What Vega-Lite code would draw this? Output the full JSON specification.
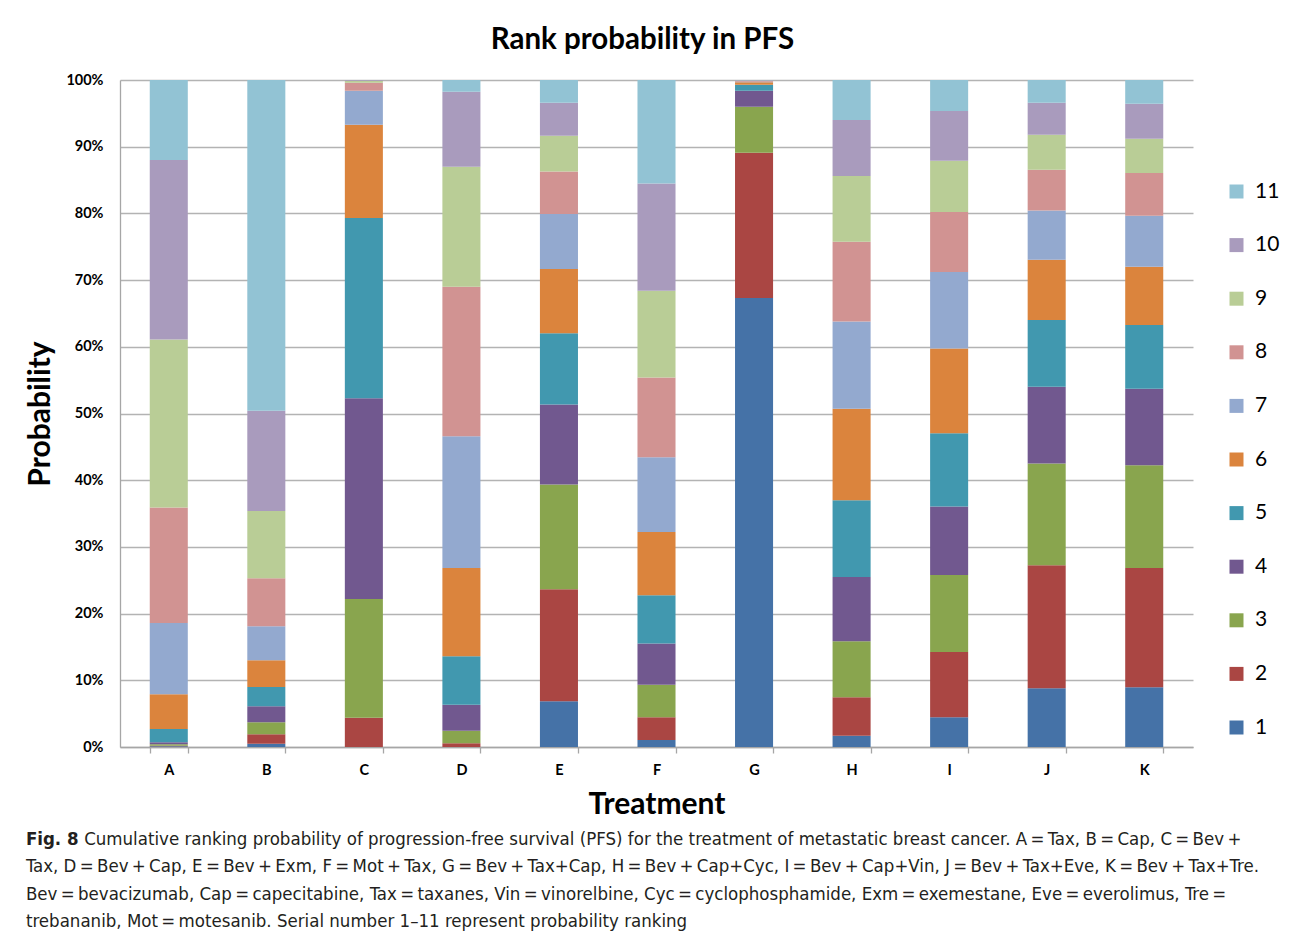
{
  "$schema": "https://vega.github.io/schema/vega-lite/v6.json",
  "background": "white",
  "padding": {"left": 25, "top": 24, "right": 5, "bottom": 5},
  "title": {
    "text": "Fig. 8",
    "subtitle": [
      "\u200b\u2003\u2003\u2003\u2005\u2005Cumulative ranking probability of progression-free survival (PFS) for the treatment of metastatic breast cancer. A\u2009=\u2009Tax, B\u2009=\u2009Cap, C\u2009=\u2009Bev\u2009+",
      "Tax, D\u2009=\u2009Bev\u2009+\u2009Cap, E\u2009=\u2009Bev\u2009+\u2009Exm, F\u2009=\u2009Mot\u2009+\u2009Tax, G\u2009=\u2009Bev\u2009+\u2009Tax+Cap, H\u2009=\u2009Bev\u2009+\u2009Cap+Cyc, I\u2009=\u2009Bev\u2009+\u2009Cap+Vin, J\u2009=\u2009Bev\u2009+\u2009Tax+Eve, K\u2009=\u2009Bev\u2009+\u2009Tax+Tre.",
      "Bev\u2009=\u2009bevacizumab, Cap\u2009=\u2009capecitabine, Tax\u2009=\u2009taxanes, Vin\u2009=\u2009vinorelbine, Cyc\u2009=\u2009cyclophosphamide, Exm\u2009=\u2009exemestane, Eve\u2009=\u2009everolimus, Tre\u2009=",
      "trebananib, Mot\u2009=\u2009motesanib. Serial number 1\u201311 represent probability ranking"
    ],
    "orient": "bottom",
    "anchor": "start",
    "frame": "bounds",
    "offset": 10,
    "font": "DejaVu Sans Condensed",
    "fontSize": 18.5,
    "fontWeight": "bold",
    "color": "#231f20",
    "subtitleFont": "DejaVu Sans Condensed",
    "subtitleFontSize": 18.5,
    "subtitleColor": "#231f20",
    "subtitleLineHeight": 27.5,
    "subtitlePadding": -18.5
  },
  "vconcat": [
    {
      "title": {
        "text": "Rank probability in PFS",
        "font": "Lato",
        "fontSize": 29.5,
        "fontWeight": "bold",
        "color": "#000000",
        "anchor": "middle",
        "dx": -14,
        "offset": 17
      },
      "width": 1073,
      "height": 667,
      "data": {
        "values": [
          {"treatment": "A", "rank": 1, "prob": 0.1}, {"treatment": "A", "rank": 2, "prob": 0.1}, {"treatment": "A", "rank": 3, "prob": 0.2}, {"treatment": "A", "rank": 4, "prob": 0.3}, {"treatment": "A", "rank": 5, "prob": 2.0}, {"treatment": "A", "rank": 6, "prob": 5.2}, {"treatment": "A", "rank": 7, "prob": 10.7}, {"treatment": "A", "rank": 8, "prob": 17.3}, {"treatment": "A", "rank": 9, "prob": 25.2}, {"treatment": "A", "rank": 10, "prob": 26.9}, {"treatment": "A", "rank": 11, "prob": 12.0},
          {"treatment": "B", "rank": 1, "prob": 0.5}, {"treatment": "B", "rank": 2, "prob": 1.4}, {"treatment": "B", "rank": 3, "prob": 1.8}, {"treatment": "B", "rank": 4, "prob": 2.4}, {"treatment": "B", "rank": 5, "prob": 2.9}, {"treatment": "B", "rank": 6, "prob": 4.0}, {"treatment": "B", "rank": 7, "prob": 5.1}, {"treatment": "B", "rank": 8, "prob": 7.2}, {"treatment": "B", "rank": 9, "prob": 10.1}, {"treatment": "B", "rank": 10, "prob": 15.0}, {"treatment": "B", "rank": 11, "prob": 49.6},
          {"treatment": "C", "rank": 1, "prob": 0.0}, {"treatment": "C", "rank": 2, "prob": 4.4}, {"treatment": "C", "rank": 3, "prob": 17.8}, {"treatment": "C", "rank": 4, "prob": 30.1}, {"treatment": "C", "rank": 5, "prob": 27.0}, {"treatment": "C", "rank": 6, "prob": 14.0}, {"treatment": "C", "rank": 7, "prob": 5.1}, {"treatment": "C", "rank": 8, "prob": 1.2}, {"treatment": "C", "rank": 9, "prob": 0.3}, {"treatment": "C", "rank": 10, "prob": 0.1}, {"treatment": "C", "rank": 11, "prob": 0.0},
          {"treatment": "D", "rank": 1, "prob": 0.0}, {"treatment": "D", "rank": 2, "prob": 0.55}, {"treatment": "D", "rank": 3, "prob": 1.9}, {"treatment": "D", "rank": 4, "prob": 3.9}, {"treatment": "D", "rank": 5, "prob": 7.25}, {"treatment": "D", "rank": 6, "prob": 13.25}, {"treatment": "D", "rank": 7, "prob": 19.75}, {"treatment": "D", "rank": 8, "prob": 22.4}, {"treatment": "D", "rank": 9, "prob": 18.0}, {"treatment": "D", "rank": 10, "prob": 11.25}, {"treatment": "D", "rank": 11, "prob": 1.75},
          {"treatment": "E", "rank": 1, "prob": 6.85}, {"treatment": "E", "rank": 2, "prob": 16.8}, {"treatment": "E", "rank": 3, "prob": 15.7}, {"treatment": "E", "rank": 4, "prob": 12.0}, {"treatment": "E", "rank": 5, "prob": 10.7}, {"treatment": "E", "rank": 6, "prob": 9.6}, {"treatment": "E", "rank": 7, "prob": 8.25}, {"treatment": "E", "rank": 8, "prob": 6.4}, {"treatment": "E", "rank": 9, "prob": 5.35}, {"treatment": "E", "rank": 10, "prob": 4.95}, {"treatment": "E", "rank": 11, "prob": 3.4},
          {"treatment": "F", "rank": 1, "prob": 1.05}, {"treatment": "F", "rank": 2, "prob": 3.4}, {"treatment": "F", "rank": 3, "prob": 4.9}, {"treatment": "F", "rank": 4, "prob": 6.15}, {"treatment": "F", "rank": 5, "prob": 7.25}, {"treatment": "F", "rank": 6, "prob": 9.5}, {"treatment": "F", "rank": 7, "prob": 11.2}, {"treatment": "F", "rank": 8, "prob": 11.95}, {"treatment": "F", "rank": 9, "prob": 13.0}, {"treatment": "F", "rank": 10, "prob": 16.1}, {"treatment": "F", "rank": 11, "prob": 15.5},
          {"treatment": "G", "rank": 1, "prob": 67.3}, {"treatment": "G", "rank": 2, "prob": 21.8}, {"treatment": "G", "rank": 3, "prob": 6.9}, {"treatment": "G", "rank": 4, "prob": 2.4}, {"treatment": "G", "rank": 5, "prob": 0.9}, {"treatment": "G", "rank": 6, "prob": 0.35}, {"treatment": "G", "rank": 7, "prob": 0.1}, {"treatment": "G", "rank": 8, "prob": 0.1}, {"treatment": "G", "rank": 9, "prob": 0.05}, {"treatment": "G", "rank": 10, "prob": 0.05}, {"treatment": "G", "rank": 11, "prob": 0.05},
          {"treatment": "H", "rank": 1, "prob": 1.7}, {"treatment": "H", "rank": 2, "prob": 5.75}, {"treatment": "H", "rank": 3, "prob": 8.4}, {"treatment": "H", "rank": 4, "prob": 9.65}, {"treatment": "H", "rank": 5, "prob": 11.5}, {"treatment": "H", "rank": 6, "prob": 13.7}, {"treatment": "H", "rank": 7, "prob": 13.1}, {"treatment": "H", "rank": 8, "prob": 11.95}, {"treatment": "H", "rank": 9, "prob": 9.85}, {"treatment": "H", "rank": 10, "prob": 8.4}, {"treatment": "H", "rank": 11, "prob": 6.0},
          {"treatment": "I", "rank": 1, "prob": 4.45}, {"treatment": "I", "rank": 2, "prob": 9.8}, {"treatment": "I", "rank": 3, "prob": 11.55}, {"treatment": "I", "rank": 4, "prob": 10.25}, {"treatment": "I", "rank": 5, "prob": 11.0}, {"treatment": "I", "rank": 6, "prob": 12.7}, {"treatment": "I", "rank": 7, "prob": 11.45}, {"treatment": "I", "rank": 8, "prob": 9.0}, {"treatment": "I", "rank": 9, "prob": 7.7}, {"treatment": "I", "rank": 10, "prob": 7.45}, {"treatment": "I", "rank": 11, "prob": 4.65},
          {"treatment": "J", "rank": 1, "prob": 8.8}, {"treatment": "J", "rank": 2, "prob": 18.45}, {"treatment": "J", "rank": 3, "prob": 15.25}, {"treatment": "J", "rank": 4, "prob": 11.5}, {"treatment": "J", "rank": 5, "prob": 10.0}, {"treatment": "J", "rank": 6, "prob": 9.05}, {"treatment": "J", "rank": 7, "prob": 7.4}, {"treatment": "J", "rank": 8, "prob": 6.1}, {"treatment": "J", "rank": 9, "prob": 5.25}, {"treatment": "J", "rank": 10, "prob": 4.8}, {"treatment": "J", "rank": 11, "prob": 3.4},
          {"treatment": "K", "rank": 1, "prob": 8.95}, {"treatment": "K", "rank": 2, "prob": 17.9}, {"treatment": "K", "rank": 3, "prob": 15.4}, {"treatment": "K", "rank": 4, "prob": 11.45}, {"treatment": "K", "rank": 5, "prob": 9.55}, {"treatment": "K", "rank": 6, "prob": 8.75}, {"treatment": "K", "rank": 7, "prob": 7.65}, {"treatment": "K", "rank": 8, "prob": 6.4}, {"treatment": "K", "rank": 9, "prob": 5.15}, {"treatment": "K", "rank": 10, "prob": 5.25}, {"treatment": "K", "rank": 11, "prob": 3.55}
        ]
      },
      "mark": {"type": "bar"},
      "encoding": {
        "x": {
          "field": "treatment",
          "type": "nominal",
          "scale": {"paddingInner": 0.61, "paddingOuter": 0.305},
          "axis": {
            "title": "Treatment",
            "titleFont": "Lato",
            "titleFontSize": 30,
            "titleFontWeight": "bold",
            "titleColor": "#000000",
            "titlePadding": 13,
            "labelAngle": 0,
            "labelFont": "Lato",
            "labelFontSize": 14.5,
            "labelFontWeight": "bold",
            "labelColor": "#000000",
            "labelPadding": 10,
            "tickBand": "extent",
            "tickSize": 6,
            "tickColor": "#a6a6a6",
            "tickWidth": 1.3,
            "domainColor": "#a6a6a6",
            "domainWidth": 1.3,
            "grid": false
          }
        },
        "y": {
          "field": "prob",
          "type": "quantitative",
          "stack": "normalize",
          "axis": {
            "title": "Probability",
            "titleFont": "Lato",
            "titleFontSize": 30,
            "titleFontWeight": "bold",
            "titleColor": "#000000",
            "titlePadding": 10,
            "format": ".0%",
            "values": [0, 0.1, 0.2, 0.3, 0.4, 0.5, 0.6, 0.7, 0.8, 0.9, 1.0],
            "labelFont": "Lato",
            "labelFontSize": 14.5,
            "labelFontWeight": "bold",
            "labelColor": "#000000",
            "labelPadding": 17,
            "ticks": false,
            "domainColor": "#a6a6a6",
            "domainWidth": 1.3,
            "grid": true,
            "gridColor": "#b3b3b3",
            "gridWidth": 1.3
          }
        },
        "color": {
          "field": "rank",
          "type": "ordinal",
          "scale": {
            "domain": [11, 10, 9, 8, 7, 6, 5, 4, 3, 2, 1],
            "range": ["#92C3D4", "#A99BBD", "#B9CD96", "#D19392", "#93A9CF", "#DB843D", "#4198AF", "#71588F", "#89A54E", "#AA4643", "#4572A7"]
          },
          "legend": {
            "title": null,
            "orient": "none",
            "legendX": 1106,
            "legendY": 101,
            "padding": 0,
            "symbolType": "square",
            "symbolSize": 196,
            "symbolStrokeWidth": 0,
            "labelFont": "Lato",
            "labelFontSize": 21,
            "labelColor": "#000000",
            "labelOffset": 8,
            "rowPadding": 31.6
          }
        },
        "order": {"field": "rank", "type": "quantitative", "sort": "ascending"}
      }
    }
  ],
  "config": {
    "view": {"stroke": null},
    "concat": {"spacing": 0}
  }
}
